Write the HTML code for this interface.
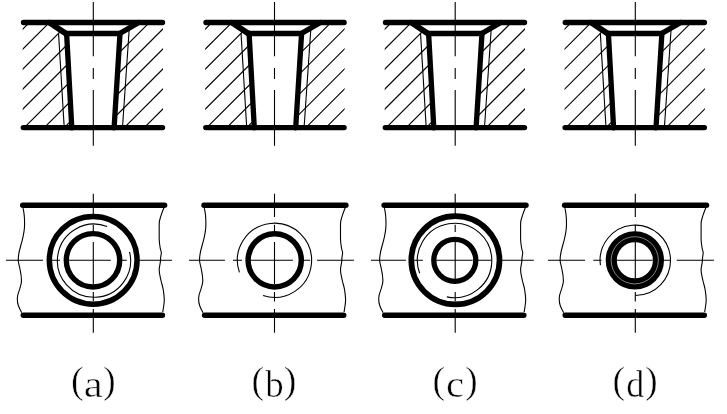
<!DOCTYPE html>
<html><head><meta charset="utf-8"><title>Diagram</title>
<style>
html,body{margin:0;padding:0;background:#fff;}
body{width:727px;height:414px;overflow:hidden;font-family:"Liberation Serif",serif;}
svg{display:block;position:absolute;left:0;top:0;}
.tk{stroke:#000;fill:none;stroke-linecap:round;}
.th{stroke:#000;fill:none;stroke-width:1.1;}
.lbl{font-family:"Liberation Serif",serif;font-size:38px;fill:#000;stroke:#fff;stroke-width:0.5;paint-order:fill stroke;}
</style></head><body>
<svg style="will-change:transform" width="727" height="414" viewBox="0 0 727 414">
<defs>
<clipPath id="hl"><polygon points="-70.2,22 -44.7,22 -26.3,33 -21.1,127 -70.2,127"/></clipPath>
<clipPath id="hr"><polygon points="44,22 25.9,33 20,127 69.1,127 69.1,22"/></clipPath>
<g id="topL">
<path class="th" clip-path="url(#hl)" d="M-171.3 130L-59.3 18M-151.3 130L-39.3 18M-131.3 130L-19.3 18M-111.3 130L0.7 18M-91.3 130L20.7 18M-71.3 130L40.7 18M-51.3 130L60.7 18M-31.3 130L80.7 18M-11.3 130L100.7 18M8.7 130L120.7 18M28.7 130L140.7 18M48.7 130L160.7 18"/>
<path class="th" d="M-34.4 32.6L-28.7 127" stroke-width="1.3"/>
<path class="tk" stroke-width="5.3" stroke-linejoin="round" d="M-26.3 33.2L-21.1 127.5"/>
<path class="tk" stroke-width="5.7" d="M-43.5 22.4L-27.1 33.2"/>
</g>
<g id="topR">
<path class="th" clip-path="url(#hr)" d="M-172.3 130L-60.3 18M-152.3 130L-40.3 18M-132.3 130L-20.3 18M-112.3 130L-0.3 18M-92.3 130L19.7 18M-72.3 130L39.7 18M-52.3 130L59.7 18M-32.3 130L79.7 18M-12.3 130L99.7 18M7.7 130L119.7 18M27.7 130L139.7 18M47.7 130L159.7 18"/>
<path class="th" d="M35.3 29L28.6 127" stroke-width="1.3"/>
<path class="tk" stroke-width="5.3" stroke-linejoin="round" d="M26.1 33.2L20.2 127.5"/>
<path class="tk" stroke-width="5.4" d="M44.5 22.4L25.9 33.2"/>
</g>
<g id="cl"><path class="th" d="M0 2V56.3M0 67.9V78.9M0 89.9V145.7" stroke-width="1.2"/></g>
<g id="bot">
<path class="tk" stroke-width="5.5" d="M-70.6 205.3H71.3M-70 315.3H69.1"/>
<path class="th" stroke-width="1.1" d="M-70.3 208.2C-69 213 -68.7 218 -68.7 224S-69.5 234 -71.1 240.4S-75.1 252 -75.1 260.2C-75.1 263 -73.8 266 -73.3 269.2C-72.5 273 -71.8 277 -71.8 280.5S-72.6 285 -73.3 288S-76 294 -76 298.4S-75.5 304 -74.8 306S-72.5 311 -71.5 312.7"/>
<path class="th" stroke-width="1.1" d="M70.7 207.5C69.5 210.5 68.5 213 67.7 215.7S65.9 220 65.9 224V239C65.9 242 66.4 245 66.9 248S68.2 251.5 68 253.2S67.2 257 67.2 260.2S65.9 266 65.9 270S67 277 67.7 280.5S69.4 286 69.9 289.5S71 296 71 300S70 308 69.5 312"/>
</g>
<g id="bcl"><path class="th" stroke-width="1.2" d="M0 193.7V217M0 224.8V232M0 242V284M0 292V301.5M0 309V332.8"/></g>
</defs>
<use href="#topL" x="92.9" y="0.3"/><use href="#topR" x="93.9" y="0.3"/>
<path class="tk" stroke-width="5.4" d="M23.5 22.5H162.5M23.3 127.6H162.5"/><path class="tk" stroke-width="5.3" d="M66.6 33.5H120.0"/>
<use href="#cl" x="93.3" y="0"/>
<use href="#bot" x="93.3" y="0"/>
<use href="#bcl" x="93.3" y="0"/>
<use href="#topL" x="275.4" y="0.3"/><use href="#topR" x="275.5" y="0.3"/>
<path class="tk" stroke-width="5.4" d="M206.0 22.5H344.1M205.8 127.6H344.1"/><path class="tk" stroke-width="5.3" d="M249.1 33.5H301.6"/>
<use href="#cl" x="274.5" y="0"/>
<use href="#bot" x="274.6" y="0"/>
<use href="#bcl" x="274.5" y="0"/>
<use href="#topL" x="454.9" y="0.3"/><use href="#topR" x="455.9" y="0.3"/>
<path class="tk" stroke-width="5.4" d="M385.5 22.5H524.5M385.3 127.6H524.5"/><path class="tk" stroke-width="5.3" d="M428.6 33.5H482.0"/>
<use href="#cl" x="455.2" y="0"/>
<use href="#bot" x="454.7" y="0"/>
<use href="#bcl" x="455.2" y="0"/>
<use href="#topL" x="634.7" y="0.3"/><use href="#topR" x="635.8" y="0.3"/>
<path class="tk" stroke-width="5.4" d="M565.3 22.5H704.4M565.1 127.6H704.4"/><path class="tk" stroke-width="5.3" d="M608.4 33.5H661.9"/>
<use href="#cl" x="635.3" y="0"/>
<use href="#bot" x="635.2" y="0"/>
<use href="#bcl" x="635.3" y="0"/>
<path class="th" stroke-width="1.2" d="M5.9 260.3H43.0M51.3 260.3H60.0M68.7 260.3H110.8M119.3 260.3H126.8M135.7 260.3H171.9"/>
<path class="th" stroke-width="1.2" d="M189.0 260.3H224.9M233.0 260.3H242.0M249.9 260.3H292.9M300.5 260.3H310.2M317.0 260.3H353.9"/>
<path class="th" stroke-width="1.2" d="M371.0 260.3H405.9M412.8 260.3H422.9M433.2 260.3H472.7M477.2 260.3H491.6M497.6 260.3H533.8"/>
<path class="th" stroke-width="1.2" d="M547.9 260.3H585.0M593.3 260.3H601.5M610.7 260.3H652.8M661.3 260.3H670.8M676.7 260.3H713.9"/>
<circle cx="93.20" cy="260.3" r="43.85" fill="none" stroke="#000" stroke-width="5.5"/>
<circle cx="93.00" cy="260.3" r="26.7" fill="none" stroke="#000" stroke-width="5.4"/>
<path class="th" stroke-width="1.4" d="M129.51 251.85A36.6 36.6 0 1 1 107.12 226.53"/>
<circle cx="274.70" cy="260.3" r="26.6" fill="none" stroke="#000" stroke-width="5.5"/>
<path class="th" stroke-width="1.4" d="M239.42 272.38A37.1 37.1 0 1 1 263.04 295.58"/>
<circle cx="455.40" cy="260.3" r="44.1" fill="none" stroke="#000" stroke-width="5.7"/>
<circle cx="454.80" cy="260.3" r="21" fill="none" stroke="#000" stroke-width="5.3"/>
<path class="th" stroke-width="1.4" d="M419.64 273.22A37.2 37.2 0 1 1 446.87 296.89"/>
<circle cx="634.85" cy="260.3" r="23.6" fill="none" stroke="#000" stroke-width="11.1"/>
<path class="th" stroke-width="1.4" d="M600.44 265.20A35.2 35.2 0 1 1 635.30 295.50"/>
<circle cx="634.75" cy="260.3" r="23.6" fill="none" stroke="#fff" stroke-width="0.5"/>
<text class="lbl" x="70.9" y="392.5">(</text><text class="lbl" transform="translate(83.69 397.3) scale(1.13 1)">a</text><text class="lbl" x="103.05" y="392.5">)</text>
<text class="lbl" x="251.6" y="392.5">(</text><text class="lbl" transform="translate(265.2 397.3) scale(0.97 1)">b</text><text class="lbl" x="283.85" y="392.5">)</text>
<text class="lbl" x="432.6" y="392.5">(</text><text class="lbl" transform="translate(445.95 397.3) scale(1.07 1)">c</text><text class="lbl" x="464.9" y="392.5">)</text>
<text class="lbl" x="612.6" y="392.5">(</text><text class="lbl" transform="translate(626.2 397.3) scale(0.95 1)">d</text><text class="lbl" x="644.9" y="392.5">)</text>
</svg></body></html>
